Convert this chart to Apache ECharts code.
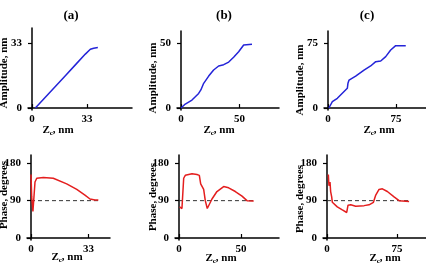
<!DOCTYPE html>
<html>
<head>
<meta charset="utf-8">
<script src="https://cdn.jsdelivr.net/npm/echarts@6/dist/echarts.min.js"></script>
<style>
html, body { margin: 0; padding: 0; background: #fff; }
#chart { width: 426px; height: 270px; }
</style>
</head>
<body>
<div id="chart"></div>
<script>
// amplitude (nm) vs Zc (nm)
var ampA = [[2, 0], [8, 5.5], [14, 11], [20, 16.5], [26, 22], [32, 27.5], [35, 30], [37, 30.5], [39.5, 30.8]];
var ampB = [[0, 0], [3.7, 3.1], [9.4, 6.2], [15.1, 11.3], [17, 14], [19.4, 19.1], [23.7, 24.7], [27.9, 29.4],
            [32.2, 32.5], [36.5, 33.5], [40.8, 35.5], [45, 39.2], [49.3, 43.5], [53.6, 48.7], [55, 49], [60.7, 49.2]];
var ampC = [[1, 0], [4.8, 7.3], [10.3, 11.2], [15.8, 17], [21.3, 22.8], [22, 28.6], [23.2, 32.4], [30.5, 37],
            [39.7, 44], [47, 48.7], [52.6, 53.7], [58.1, 54.5], [63.6, 59.5], [69.1, 67.2], [74.6, 72.2], [85.7, 72.2]];

// phase (degrees) vs Zc (nm)
var phaseA = [[0, 153], [0.4, 99], [1.1, 64], [2.3, 135], [3.3, 144], [7.1, 146], [12.8, 144], [20.5, 130.5],
              [26.3, 117], [31, 103.5], [33.9, 94], [36.8, 91.6], [38.7, 91.6]];
var phaseB = [[0.5, 75], [2.4, 71], [3.8, 144], [5.1, 151], [10.5, 155], [14.5, 153], [16.4, 151], [17.5, 130.5],
              [19.9, 117], [21.2, 90], [22.8, 71], [23.9, 75], [26.6, 94], [30.6, 112], [36, 124], [40, 121],
              [45.4, 112], [50.8, 101], [54.8, 90], [60.2, 89]];
var phaseC = [[1.4, 153], [2.1, 126], [3.2, 135], [3.9, 112], [5, 99], [5.7, 86], [7.5, 82], [11, 75], [16.4, 67.6],
              [21.1, 61.5], [22.5, 79], [25.4, 80], [30.7, 76.6], [39.7, 78], [45, 80], [49.7, 86], [52.2, 103.5],
              [55.7, 117], [59.3, 118.6], [64.6, 112], [71.8, 99], [77.2, 90], [87.9, 88]];

// 90 degree reference lines
var refA = [[0, 90], [39.7, 90]];
var refB = [[0, 90], [60, 90]];
var refC = [[0, 90], [88, 90]];

// tick labels
var ticksA = [0, 33];
var ticksB = [0, 50];
var ticksC = [0, 75];
var phaseTicks = [0, 90, 180];

var serif = 'Liberation Serif';
var blue = '#2424d8';
var red = '#e41e1e';

// one entry per panel: grid box and axis extents
var panels = [
  { left: 28, top: 28, width: 104, height: 82, xMin: -2.4, xMax: 60, yMin: -1, yMax: 40.8, xt: ticksA, yt: ticksA, data: ampA, color: blue },
  { left: 177, top: 31, width: 102, height: 79, xMin: -3.4, xMax: 83.8, yMin: -1.5, yMax: 59.5, xt: ticksB, yt: ticksB, data: ampB, color: blue },
  { left: 324, top: 31, width: 102, height: 79, xMin: -4.4, xMax: 108, yMin: -2.3, yMax: 89.2, xt: ticksC, yt: ticksC, data: ampC, color: blue },
  { left: 27, top: 155, width: 83, height: 85, xMin: -2.3, xMax: 45.4, yMin: -4.8, yMax: 200, xt: ticksA, yt: phaseTicks, data: phaseA, color: red, ref: refA },
  { left: 175, top: 155, width: 104, height: 85, xMin: -3.2, xMax: 80.6, yMin: -4.8, yMax: 200, xt: ticksB, yt: phaseTicks, data: phaseB, color: red, ref: refB },
  { left: 323, top: 155, width: 103, height: 85, xMin: -4.3, xMax: 106, yMin: -4.8, yMax: 200, xt: ticksC, yt: phaseTicks, data: phaseC, color: red, ref: refC }
];

var grids = [], xAxes = [], yAxes = [], series = [];
var labelStyle = { color: '#000', fontFamily: serif, fontWeight: 'bold', fontSize: 11 };

panels.forEach(function (p, i) {
  grids.push({ left: p.left, top: p.top, width: p.width, height: p.height });
  xAxes.push({
    type: 'value', gridIndex: i, min: p.xMin, max: p.xMax,
    axisLine: { onZero: true, lineStyle: { color: '#000', width: 1.5 } },
    axisTick: { customValues: p.xt, inside: true, length: 4, lineStyle: { color: '#000', width: 1.2 } },
    axisLabel: Object.assign({ customValues: p.xt, margin: 4 }, labelStyle),
    splitLine: { show: false }
  });
  yAxes.push({
    type: 'value', gridIndex: i, min: p.yMin, max: p.yMax,
    axisLine: { onZero: true, lineStyle: { color: '#000', width: 1.5 } },
    axisTick: { customValues: p.yt, length: 4, lineStyle: { color: '#000', width: 1.2 } },
    axisLabel: Object.assign({ customValues: p.yt, margin: 6 }, labelStyle),
    splitLine: { show: false }
  });
  if (p.ref) {
    series.push({
      type: 'line', xAxisIndex: i, yAxisIndex: i, data: p.ref, showSymbol: false, silent: true,
      lineStyle: { color: '#333', width: 1, type: [4, 3] }
    });
  }
  series.push({
    type: 'line', xAxisIndex: i, yAxisIndex: i, data: p.data, showSymbol: false,
    lineStyle: { color: p.color, width: 1.5 }
  });
});

// free text: panel titles and axis names
function txt(x, y, text, size, rot) {
  return {
    type: 'text', x: x, y: y, rotation: rot || 0,
    style: {
      text: text, font: 'bold ' + size + 'px ' + serif, fill: '#000',
      align: 'center', verticalAlign: 'middle', textAlign: 'center', textVerticalAlign: 'middle',
      rich: {
        z: { font: 'bold 11px ' + serif, fill: '#000' },
        s: { font: 'bold 7px ' + serif, fill: '#000', padding: [6, 0, 0, 0] }
      }
    }
  };
}
var zName = '{z|Z}{s|c}{z|, nm}';
var graphics = [
  txt(71, 16, '(a)', 13), txt(224, 16, '(b)', 13), txt(367, 16, '(c)', 13),
  txt(4, 73, 'Amplitude, nm', 11, Math.PI / 2),
  txt(153, 78, 'Amplitude, nm', 11, Math.PI / 2),
  txt(300, 80, 'Amplitude, nm', 11, Math.PI / 2),
  txt(4, 195, 'Phase, degrees', 11, Math.PI / 2),
  txt(153, 197, 'Phase, degrees', 11, Math.PI / 2),
  txt(300, 199, 'Phase, degrees', 11, Math.PI / 2),
  txt(58, 130, zName, 11), txt(219, 130, zName, 11), txt(379, 130, zName, 11),
  txt(67, 257, zName, 11), txt(221, 258, zName, 11), txt(385, 258, zName, 11)
];

var chart = echarts.init(document.getElementById('chart'));
chart.setOption({
  backgroundColor: '#fff',
  animation: false,
  grid: grids,
  xAxis: xAxes,
  yAxis: yAxes,
  series: series,
  graphic: graphics
});
</script>
</body>
</html>
